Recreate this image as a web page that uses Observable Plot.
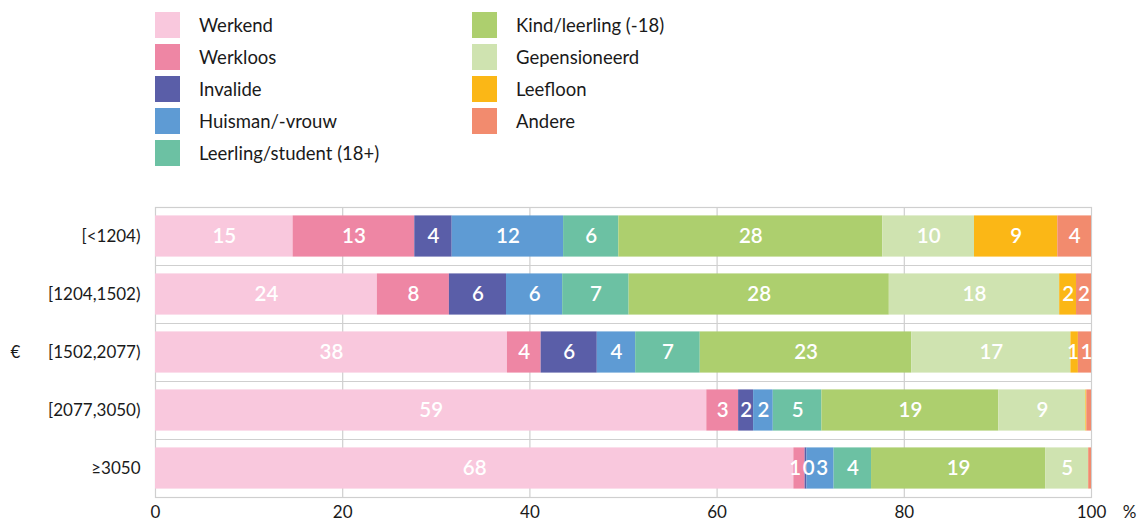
<!DOCTYPE html>
<html><head><meta charset="utf-8">
<script src="https://cdn.jsdelivr.net/npm/d3@7"></script>
<script src="https://cdn.jsdelivr.net/npm/@observablehq/plot@0.6"></script>
<style>
body{margin:0;background:#fff;font-family:Lato, "Noto Sans", sans-serif;}
#legend{position:relative;height:180px;width:1146px;}
.item{position:absolute;display:flex;align-items:center;font-size:18.5px;color:#1a1a1a;height:26px;}
.sw{width:25px;height:26px;margin-right:19px;flex:none;}
#chart svg{display:block;}
</style></head><body>
<div id="legend"></div><div id="chart"></div>
<script>
const groups = ["[<1204)","[1204,1502)","[1502,2077)","[2077,3050)","≥3050"];
const statuses = ["Werkend","Werkloos","Invalide","Huisman/-vrouw","Leerling/student (18+)","Kind/leerling (-18)","Gepensioneerd","Leefloon","Andere"];
const colors = ["#F9C8DD","#EE86A4","#5A5EA8","#5E9BD4","#6CC1A3","#ADCF6E","#CFE3B0","#FBB716","#F28B6E"];
// values (%) per income group, in the order of groups
const werkend  = [14.7, 23.7, 37.6, 58.9, 68.2];
const werkloos = [13.0,  7.7,  3.6,  3.4,  1.2];
const invalide = [ 4.0,  6.1,  6.0,  1.6,  0.2];
const huisman  = [11.9,  6.0,  4.1,  2.1,  2.9];
const student  = [ 5.9,  7.1,  6.9,  5.2,  4.0];
const kind     = [28.2, 27.8, 22.6, 18.9, 18.6];
const pensioen = [ 9.8, 18.2, 17.0,  9.3,  4.6];
const leefloon = [ 8.9,  1.8,  0.8,  0.1,  0.0];
const andere   = [ 3.6,  1.6,  1.4,  0.5,  0.3];
// segments whose value is not printed
const hiddenLabels = [["[2077,3050)","Leefloon"],["[2077,3050)","Andere"],["≥3050","Leefloon"],["≥3050","Andere"]];
const xTicks = [0,20,40,60,80,100];

const series = [werkend, werkloos, invalide, huisman, student, kind, pensioen, leefloon, andere];
const data = [];
groups.forEach((g, gi) => statuses.forEach((s, si) => data.push({group: g, status: s, value: series[si][gi]})));

// legend
const legend = document.getElementById("legend");
statuses.forEach((s, i) => {
  const col = i < 5 ? 0 : 1, row = i < 5 ? i : i - 5;
  const el = document.createElement("div");
  el.className = "item";
  el.style.left = (col ? 472 : 155) + "px";
  el.style.top = (12 + row * 32) + "px";
  el.innerHTML = `<div class="sw" style="background:${colors[i]}"></div><span>${s}</span>`;
  legend.appendChild(el);
});

const W = 1146, H = 344, mT = 27, mB = 27, mL = 155, mR = 55;
const pxPerUnit = (W - mL - mR) / 100;
const step = (H - mT - mB) / groups.length;

// label positions: segment midpoints, pushed apart when they would overlap
const labels = [];
groups.forEach((g, gi) => {
  let cum = 0;
  const row = [];
  statuses.forEach((s, si) => {
    const v = series[si][gi];
    const hidden = hiddenLabels.some(([hg, hs]) => hg === g && hs === s);
    if (!hidden) row.push({group: g, text: String(Math.round(v)), x: cum + v / 2});
    cum += v;
  });
  const wUnits = t => (t.length * 11.5 + 2) / pxPerUnit;
  for (let it = 0; it < 200; it++) {
    for (let i = 1; i < row.length; i++) {
      const need = (wUnits(row[i-1].text) + wUnits(row[i].text)) / 2;
      const gap = row[i].x - row[i-1].x;
      if (gap < need) { const d = (need - gap) / 2; row[i-1].x -= d; row[i].x += d; }
    }
  }
  labels.push(...row);
});

const chart = Plot.plot({
  width: W, height: H, marginTop: mT, marginBottom: mB, marginLeft: mL, marginRight: mR,
  style: {fontFamily: "Lato, 'Noto Sans', sans-serif", fontSize: "17px", color: "#1a1a1a", background: "#fff", overflow: "visible"},
  x: {domain: [0, 100], axis: null},
  y: {domain: groups, paddingInner: 0.29, paddingOuter: 0.145, round: false, axis: null},
  color: {domain: statuses, range: colors},
  marks: [
    Plot.gridX([20, 40, 60, 80], {stroke: "#cfcfcf", strokeOpacity: 1, strokeWidth: 1.2}),
    Plot.ruleY(groups.slice(1), {y: d => d, dy: -step / 2, stroke: "#cfcfcf", strokeWidth: 1.2}),
    Plot.frame({stroke: "#cfcfcf", strokeWidth: 1.2}),
    Plot.barX(data, {x: "value", y: "group", fill: "status", order: statuses}),
    Plot.text(labels, {x: "x", y: "group", text: "text", fill: "white", fontSize: 20.5, fontWeight: 600}),
    Plot.axisY({tickSize: 0, tickPadding: 15, fontSize: 17, label: null}),
    Plot.axisX({ticks: xTicks, tickSize: 0, tickPadding: 8, fontSize: 17, label: null}),
    Plot.text(["€"], {frameAnchor: "left", dx: -140, textAnchor: "middle", fontSize: 17}),
    Plot.text(["%"], {frameAnchor: "bottom-right", dx: 38, dy: 8, lineAnchor: "top", textAnchor: "middle", fontSize: 17})
  ]
});
document.getElementById("chart").appendChild(chart);
</script>
</body></html>
